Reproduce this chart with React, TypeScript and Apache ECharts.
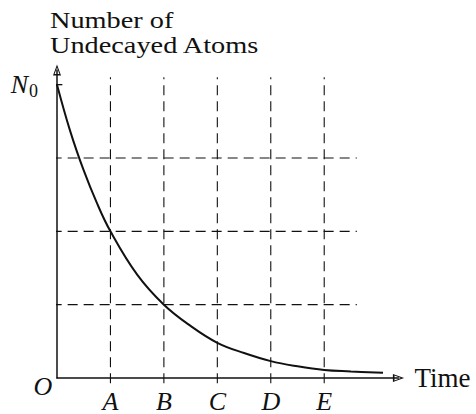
import React, { useEffect, useRef } from 'react';
import * as echarts from 'echarts';

// Elapsed time, in half-lives
const timePoints = [0, 0.25, 0.5, 0.75, 1, 1.5, 2, 2.5, 3, 3.5, 4, 4.5, 5, 5.5, 6.1];
// Undecayed atoms, in quarters of N0
const atomCounts = [4, 3.36, 2.83, 2.38, 2.0, 1.41, 1.0, 0.71, 0.48, 0.34, 0.23, 0.16, 0.11, 0.09, 0.07];

const timeTicks = [1, 2, 3, 4, 5];
const timeLabels = ['O', 'A', 'B', 'C', 'D', 'E'];
const countLevels = [1, 2, 3];
const initialCount = 4;

const X_MAX = 6.39;
const Y_MAX = 4.2;
const FONT = '"Liberation Serif", "Times New Roman", serif';
const INK = '#111';

// hollow arrowhead: outer triangle with a reversed inner triangle cut out
const ARROW = 'path://M5,0 L10,14 L0,14 Z M5,4 L2,12 L8,12 Z';

const dashed = { color: INK, width: 1.1, type: [10, 6] as number[] };

function segment(name: string, data: number[][], lineStyle: any) {
  return {
    name,
    type: 'line',
    data,
    clip: false,
    silent: true,
    showSymbol: false,
    symbol: 'none',
    lineStyle,
    z: 1,
  };
}

export default function App() {
  const ref = useRef<HTMLDivElement>(null);

  useEffect(() => {
    if (!ref.current) return;
    const chart = echarts.init(ref.current, null, { renderer: 'svg' });

    const series: any[] = [];
    timeTicks.forEach((t) => {
      series.push(segment('t' + t, [[t, -0.07], [t, 4.1]], dashed));
    });
    countLevels.forEach((c) => {
      series.push(segment('n' + c, [[-0.1, c], [5.61, c]], dashed));
    });
    series.push(
      segment('n0tick', [[-0.1, initialCount], [0.1, initialCount]], { color: INK, width: 1.3 })
    );
    series.push({
      name: 'decay',
      type: 'line',
      data: timePoints.map((t, i) => [t, atomCounts[i]]),
      smooth: 0.4,
      showSymbol: false,
      symbol: 'none',
      clip: false,
      silent: true,
      lineStyle: { color: INK, width: 2 },
      z: 3,
    });

    chart.setOption({
      animation: false,
      backgroundColor: '#fff',
      grid: { left: 57, right: 77.5, top: 70, bottom: 36, containLabel: false },
      xAxis: {
        type: 'value',
        min: 0,
        max: X_MAX,
        interval: 1,
        name: 'Time',
        nameLocation: 'end',
        nameGap: 16,
        nameTextStyle: {
          fontFamily: FONT,
          fontSize: 27,
          color: INK,
          align: 'left',
          verticalAlign: 'middle',
          padding: [6, 0, 0, 0],
        },
        axisLine: {
          lineStyle: { color: INK, width: 1.5 },
          symbol: ['none', ARROW],
          symbolSize: [8, 13],
        },
        axisTick: { show: false },
        splitLine: { show: false },
        axisLabel: {
          margin: 10,
          showMaxLabel: false,
          fontFamily: FONT,
          fontStyle: 'italic',
          fontSize: 26,
          lineHeight: 26,
          color: INK,
          formatter: (v: number) => {
            const i = Math.round(v);
            if (Math.abs(v - i) > 1e-6 || i < 1 || i >= timeLabels.length) return '';
            return timeLabels[i];
          },
        },
      },
      yAxis: {
        type: 'value',
        min: 0,
        max: Y_MAX,
        interval: 1,
        axisLine: {
          lineStyle: { color: INK, width: 1.5 },
          symbol: ['none', ARROW],
          symbolSize: [8, 15],
        },
        axisTick: { show: false },
        splitLine: { show: false },
        axisLabel: {
          margin: 19,
          showMaxLabel: false,
          color: INK,
          formatter: (v: number) => (Math.abs(v - initialCount) < 1e-6 ? '{n|N}{s|0}' : ''),
          rich: {
            n: { fontFamily: FONT, fontStyle: 'italic', fontSize: 26, color: INK },
            s: { fontFamily: FONT, fontSize: 18, color: INK, padding: [12, 0, 0, 1] },
          },
        },
      },
      graphic: [
        {
          type: 'text',
          x: 50,
          y: 7,
          scaleX: 1.18,
          silent: true,
          style: {
            text: 'Number of\nUndecayed Atoms',
            fontFamily: FONT,
            fontSize: 24,
            lineHeight: 25.5,
            fill: INK,
            align: 'left',
            verticalAlign: 'top',
          },
        },
        {
          type: 'text',
          x: 43,
          y: 386,
          silent: true,
          style: {
            text: timeLabels[0],
            fontFamily: FONT,
            fontStyle: 'italic',
            fontSize: 26,
            fill: INK,
            align: 'center',
            verticalAlign: 'middle',
          },
        },
      ],
      series,
    });

    return () => chart.dispose();
  }, []);

  return (
    <div
      ref={ref}
      style={{ position: 'fixed', left: 0, top: 0, width: 476, height: 414, background: '#fff' }}
    />
  );
}
